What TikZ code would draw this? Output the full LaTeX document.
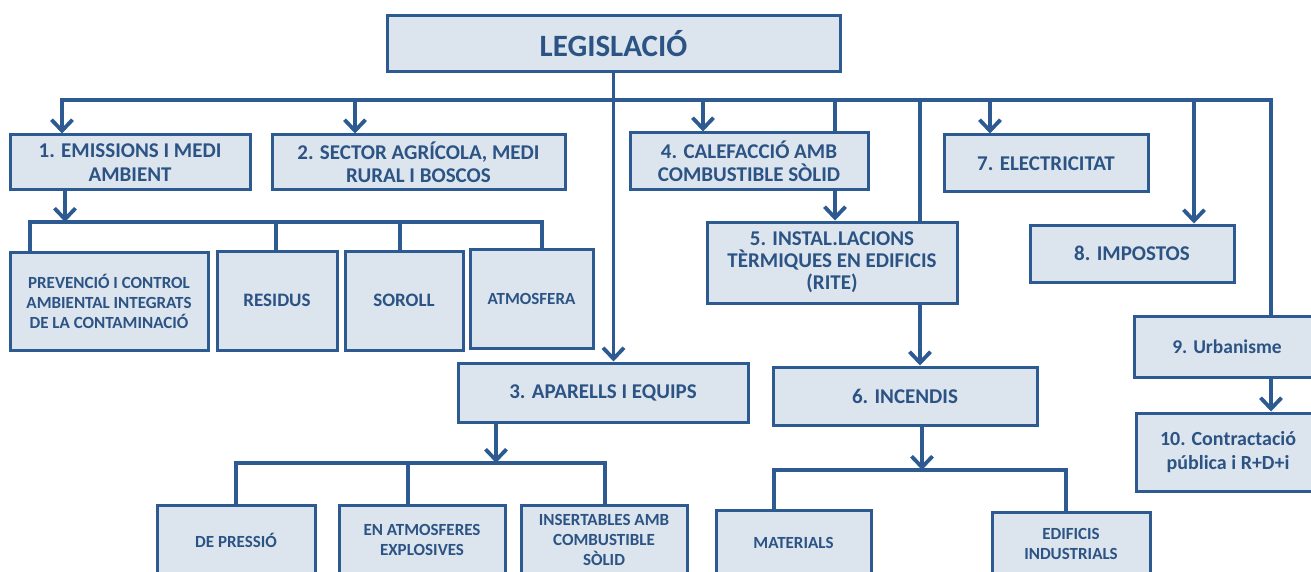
\documentclass[tikz,border=0pt]{standalone}
\usepackage{fontspec}
\setmainfont{Carlito}
\usetikzlibrary{arrows.meta}
\definecolor{bd}{HTML}{2C5A91}
\definecolor{bf}{HTML}{DCE4EE}
\definecolor{tx}{HTML}{2B5384}
\pgfdeclarelayer{back}
\pgfdeclarelayer{bg}
\pgfsetlayers{back,bg,main}
\tikzset{
 box/.style={draw=bd, line width=3pt, fill=bf, inner sep=0pt, align=center, text=tx, font=\bfseries\fontsize{21}{23.5}\selectfont},
 small/.style={box, font=\bfseries\fontsize{17}{20}\selectfont},
 wh/.style 2 args={minimum width=#1pt, minimum height=#2pt},
 conn/.style={draw=bd, line width=3.8pt},
 arr/.style={conn, -{Straight Barb[length=11pt,width=21pt]}},
}
\begin{document}
\begin{tikzpicture}[x=1pt,y=-1pt]
\begin{pgfonlayer}{back}
\fill[white] (0,0) rectangle (1311,572);
\end{pgfonlayer}
\useasboundingbox (0,0) rectangle (1311,572);
% top level
\node[box, wh={453}{56}, font=\bfseries\fontsize{31}{36}\selectfont] (leg) at (613.5,44) {LEGISLACIÓ};
\node[box, wh={240}{55}] (b1) at (130,162.5) {1. EMISSIONS I MEDI\\AMBIENT};
\node[box, wh={293}{55}] (b2) at (418.5,162.5) {2. SECTOR AGRÍCOLA, MEDI\\RURAL I BOSCOS};
\node[box, wh={238}{57}] (b4) at (749,161.5) {4. CALEFACCIÓ AMB\\COMBUSTIBLE SÒLID};
\node[box, wh={204}{57}] (b7) at (1046,163.5) {7. ELECTRICITAT};
\node[box, wh={250}{81}, font=\bfseries\fontsize{21}{22}\selectfont] (b5) at (832,262.5) {5. INSTAL.LACIONS\\TÈRMIQUES EN EDIFICIS\\(RITE)};
\node[box, wh={204}{57}] (b8) at (1132,253.5) {8. IMPOSTOS};
\node[box, wh={186}{61}, font=\bfseries\fontsize{19.5}{24}\selectfont] (b9) at (1227,346.5) {9. Urbanisme};
\node[box, wh={184}{78}, font=\bfseries\fontsize{20}{24}\selectfont] (b10) at (1228,452) {10. Contractació\\pública i R+D+i};
\node[box, wh={290}{59}] (b3) at (603,392.5) {3. APARELLS I EQUIPS};
\node[box, wh={264}{58}] (b6) at (905,396) {6. INCENDIS};
% children of 1
\node[small, wh={198}{98}] (s1) at (109,301) {PREVENCIÓ I CONTROL\\AMBIENTAL INTEGRATS\\DE LA CONTAMINACIÓ};
\node[small, wh={120}{99}, font=\bfseries\fontsize{19}{22}\selectfont] (s2) at (277,300.5) {RESIDUS};
\node[small, wh={118}{99}, font=\bfseries\fontsize{19}{22}\selectfont] (s3) at (404,300.5) {SOROLL};
\node[small, wh={123}{99}] (s4) at (531.5,299) {ATMOSFERA};
% children of 3
\node[small, wh={158}{70}] (p1) at (236,540) {DE PRESSIÓ};
\node[small, wh={166}{70}] (p2) at (422,540) {EN ATMOSFERES\\EXPLOSIVES};
\node[small, wh={166}{70}] (p3) at (604,540) {INSERTABLES AMB\\COMBUSTIBLE\\SÒLID};
% children of 6
\node[small, wh={155}{65}] (m1) at (793.5,542.5) {MATERIALS};
\node[small, wh={158}{63}] (m2) at (1071,543.5) {EDIFICIS\\INDUSTRIALS};
% bus coordinates
\coordinate (t1) at (62,100);
\coordinate (t2) at (355,100);
\coordinate (t4) at (703,100);
\coordinate (t5) at (835,100);
\coordinate (t6) at (920,100);
\coordinate (t7) at (990,100);
\coordinate (t8) at (1194,100);
\coordinate (t9) at (1271,100);
\coordinate (ea) at (65,222);
\coordinate (e1) at (30,222);
\coordinate (e2) at (276,222);
\coordinate (e3) at (400,222);
\coordinate (e4) at (542,222);
\coordinate (fa) at (496,463);
\coordinate (f1) at (236,463);
\coordinate (f2) at (408,463);
\coordinate (f3) at (605,463);
\coordinate (ga) at (922,470);
\coordinate (g1) at (774,470);
\coordinate (g2) at (1066,470);
\begin{pgfonlayer}{bg}
\draw[arr] (t9 |- b9.north) -- (t9) -- (t1) -- (t1 |- b1.north);
\draw[arr] (leg.south) -- (leg.south |- b3.north);
\draw[arr] (t2) -- (t2 |- b2.north);
\draw[arr] (t4) -- (t4 |- b4.north);
\draw[conn] (t5) -- (t5 |- b4.north);
\draw[arr] (t5 |- b4.south) -- (t5 |- b5.north);
\draw[conn] (t6) -- (t6 |- b5.north);
\draw[arr] (t6 |- b5.south) -- (t6 |- b6.north);
\draw[arr] (t7) -- (t7 |- b7.north);
\draw[arr] (t8) -- (t8 |- b8.north);
\draw[arr] (t9 |- b9.south) -- (t9 |- b10.north);
% 1 -> children
\draw[arr] (ea |- b1.south) -- (ea);
\draw[conn] (e1 |- s1.north) -- (e1) -- (e4) -- (e4 |- s4.north);
\draw[conn] (e2) -- (e2 |- s2.north);
\draw[conn] (e3) -- (e3 |- s3.north);
% 3 -> children
\draw[arr] (fa |- b3.south) -- (fa);
\draw[conn] (f1 |- p1.north) -- (f1) -- (f3) -- (f3 |- p3.north);
\draw[conn] (f2) -- (f2 |- p2.north);
% 6 -> children
\draw[arr] (ga |- b6.south) -- (ga);
\draw[conn] (g1 |- m1.north) -- (g1) -- (g2) -- (g2 |- m2.north);
\end{pgfonlayer}
\end{tikzpicture}
\end{document}
